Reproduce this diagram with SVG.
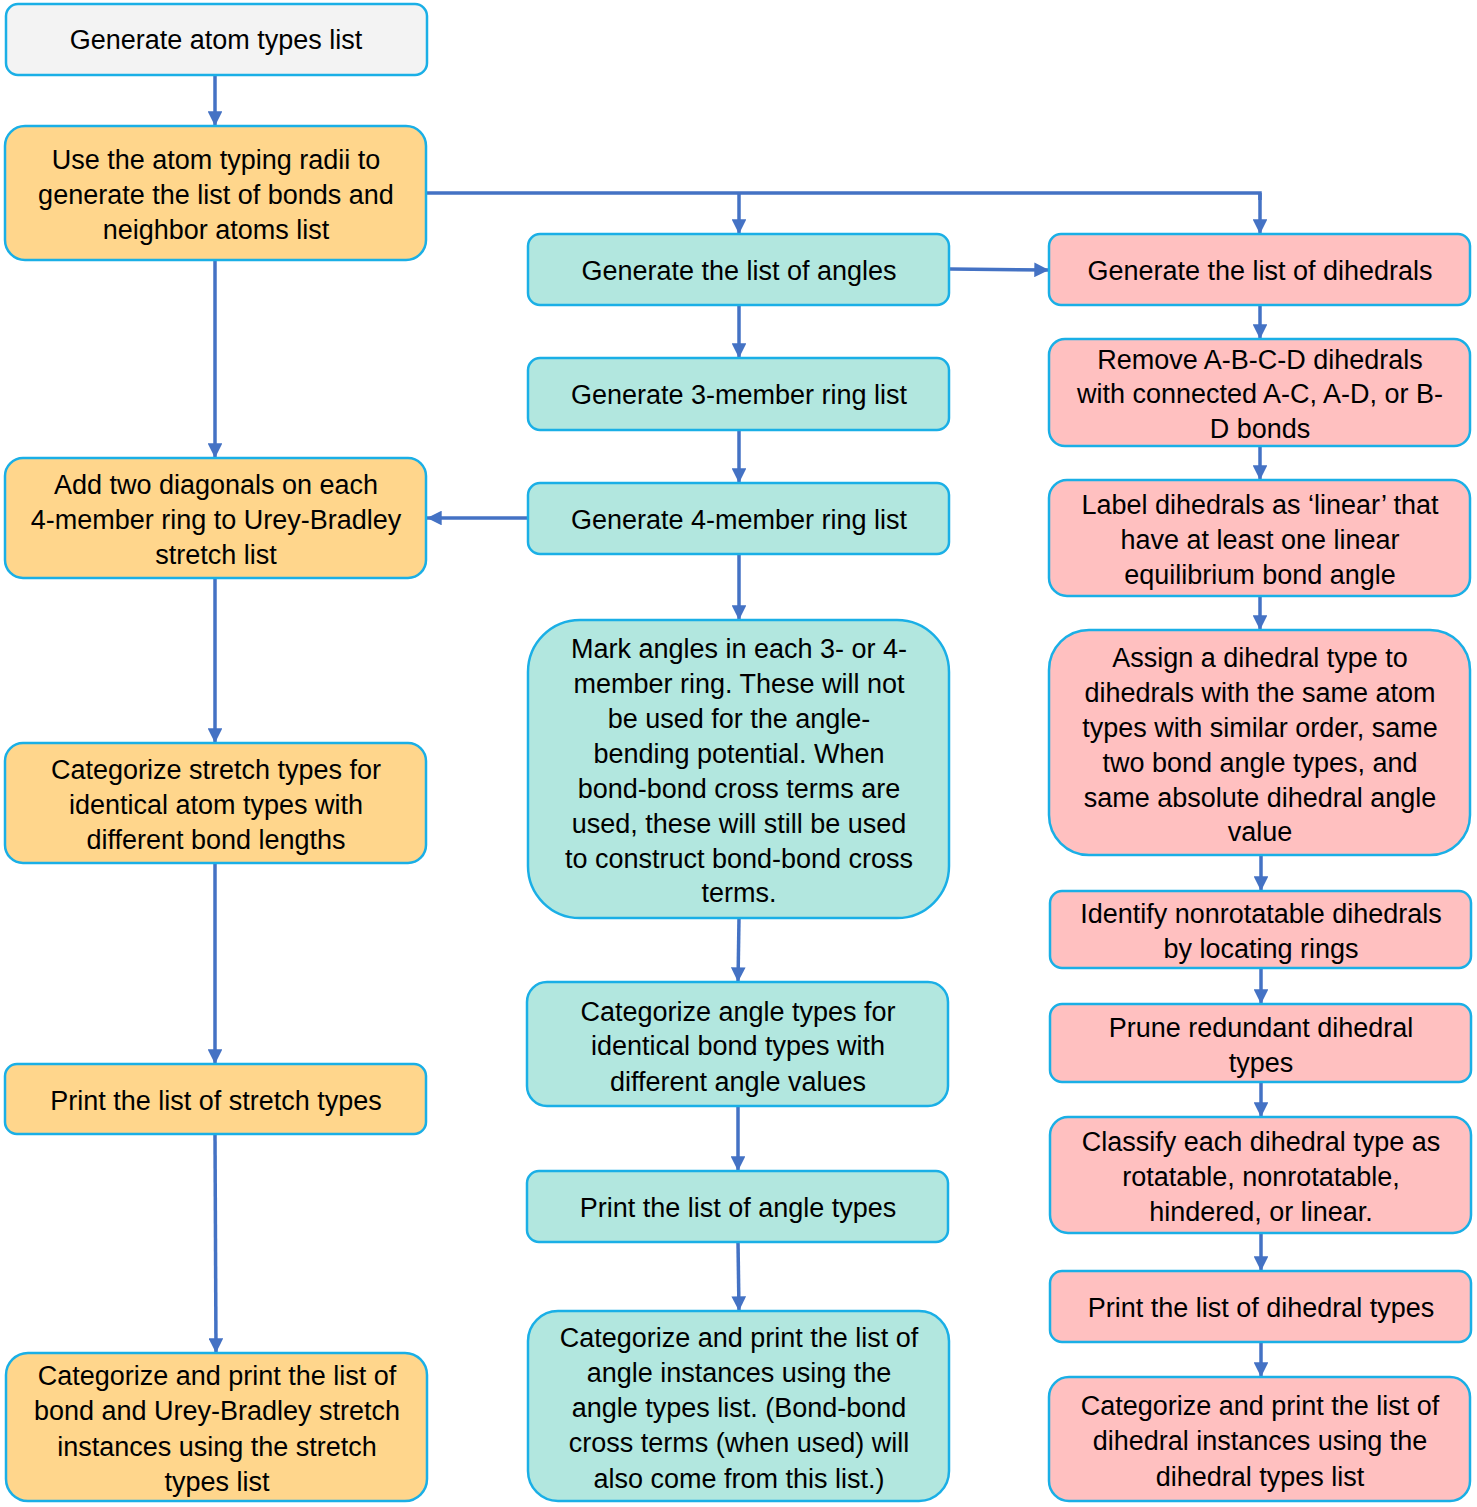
<svg xmlns="http://www.w3.org/2000/svg" width="1477" height="1507" viewBox="0 0 1477 1507">
<defs>
<marker id="ah" viewBox="0 0 10 10" refX="10" refY="5" markerWidth="4.4" markerHeight="4.2" orient="auto" markerUnits="strokeWidth">
<path d="M0,0 L10,5 L0,10 z" fill="#4472C4"/>
</marker>
</defs>
<style>
.b{stroke:#1AAFE6;stroke-width:2.5}
.g{fill:#F3F3F3}.o{fill:#FFD68C}.t{fill:#B2E7DF}.p{fill:#FFC0C0}
text{font-family:"Liberation Sans",Arial,sans-serif;font-size:27px;fill:#000;text-anchor:middle}
.c{fill:none;stroke:#4472C4;stroke-width:3.5;stroke-linejoin:miter}
.ca{fill:none;stroke:#4472C4;stroke-width:3.5;marker-end:url(#ah)}
</style>
<rect width="1477" height="1507" fill="#fff"/>
<g id="connectors">
<path class="ca" d="M215,75 V126"/>
<path class="ca" d="M215,260 V458"/>
<path class="c" d="M427,193 H1260 V200"/>
<path class="ca" d="M1260,193 V234"/>
<path class="ca" d="M739,193 V234"/>
<path class="ca" d="M950,269 L1049,270"/>
<path class="ca" d="M739,305 V358"/>
<path class="ca" d="M739,430 V483"/>
<path class="ca" d="M528,518 H427"/>
<path class="ca" d="M739,554 V620"/>
<path class="ca" d="M215,578 V743"/>
<path class="ca" d="M215,863 V1064"/>
<path class="ca" d="M215,1134 L216,1353"/>
<path class="ca" d="M739,918 L738,982"/>
<path class="ca" d="M738,1106 V1171"/>
<path class="ca" d="M738,1242 L739,1311"/>
<path class="ca" d="M1260,305 V339"/>
<path class="ca" d="M1260,446 V480"/>
<path class="ca" d="M1260,596 V630"/>
<path class="ca" d="M1261,855 V891"/>
<path class="ca" d="M1261,968 V1004"/>
<path class="ca" d="M1261,1082 V1117"/>
<path class="ca" d="M1261,1233 V1271"/>
<path class="ca" d="M1261,1342 V1377"/>
</g>
<g id="n1"><rect class="b g" x="6" y="4" width="421" height="71" rx="12"/><text x="216" y="49">Generate atom types list</text></g>
<g id="n2"><rect class="b o" x="5" y="126" width="421" height="134" rx="20"/><text x="216" y="169">Use the atom typing radii to</text><text x="216" y="204">generate the list of bonds and</text><text x="216" y="239">neighbor atoms list</text></g>
<g id="n3"><rect class="b o" x="5" y="458" width="421" height="120" rx="18"/><text x="216" y="494">Add two diagonals on each</text><text x="216" y="529">4-member ring to Urey-Bradley</text><text x="216" y="564">stretch list</text></g>
<g id="n4"><rect class="b o" x="5" y="743" width="421" height="120" rx="18"/><text x="216" y="779">Categorize stretch types for</text><text x="216" y="814">identical atom types with</text><text x="216" y="849">different bond lengths</text></g>
<g id="n5"><rect class="b o" x="5" y="1064" width="421" height="70" rx="12"/><text x="216" y="1110">Print the list of stretch types</text></g>
<g id="n6"><rect class="b o" x="6" y="1353" width="421" height="148" rx="22"/><text x="217" y="1385">Categorize and print the list of</text><text x="217" y="1420">bond and Urey-Bradley stretch</text><text x="217" y="1456">instances using the stretch</text><text x="217" y="1491">types list</text></g>
<g id="m1"><rect class="b t" x="528" y="234" width="421" height="71" rx="12"/><text x="739" y="280">Generate the list of angles</text></g>
<g id="m2"><rect class="b t" x="528" y="358" width="421" height="72" rx="12"/><text x="739" y="404">Generate 3-member ring list</text></g>
<g id="m3"><rect class="b t" x="528" y="483" width="421" height="71" rx="12"/><text x="739" y="529">Generate 4-member ring list</text></g>
<g id="m4"><rect class="b t" x="528" y="620" width="421" height="298" rx="52"/><text x="739" y="658">Mark angles in each 3- or 4-</text><text x="739" y="693">member ring. These will not</text><text x="739" y="728">be used for the angle-</text><text x="739" y="763">bending potential. When</text><text x="739" y="798">bond-bond cross terms are</text><text x="739" y="833">used, these will still be used</text><text x="739" y="868">to construct bond-bond cross</text><text x="739" y="902">terms.</text></g>
<g id="m5"><rect class="b t" x="527" y="982" width="421" height="124" rx="20"/><text x="738" y="1021">Categorize angle types for</text><text x="738" y="1055">identical bond types with</text><text x="738" y="1091">different angle values</text></g>
<g id="m6"><rect class="b t" x="527" y="1171" width="421" height="71" rx="12"/><text x="738" y="1217">Print the list of angle types</text></g>
<g id="m7"><rect class="b t" x="528" y="1311" width="421" height="190" rx="30"/><text x="739" y="1347">Categorize and print the list of</text><text x="739" y="1382">angle instances using the</text><text x="739" y="1417">angle types list. (Bond-bond</text><text x="739" y="1452">cross terms (when used) will</text><text x="739" y="1488">also come from this list.)</text></g>
<g id="r1"><rect class="b p" x="1049" y="234" width="421" height="71" rx="12"/><text x="1260" y="280">Generate the list of dihedrals</text></g>
<g id="r2"><rect class="b p" x="1049" y="339" width="421" height="107" rx="16"/><text x="1260" y="369">Remove A-B-C-D dihedrals</text><text x="1260" y="403">with connected A-C, A-D, or B-</text><text x="1260" y="438">D bonds</text></g>
<g id="r3"><rect class="b p" x="1049" y="480" width="421" height="116" rx="18"/><text x="1260" y="514">Label dihedrals as ‘linear’ that</text><text x="1260" y="549">have at least one linear</text><text x="1260" y="584">equilibrium bond angle</text></g>
<g id="r4"><rect class="b p" x="1049" y="630" width="421" height="225" rx="40"/><text x="1260" y="667">Assign a dihedral type to</text><text x="1260" y="702">dihedrals with the same atom</text><text x="1260" y="737">types with similar order, same</text><text x="1260" y="772">two bond angle types, and</text><text x="1260" y="807">same absolute dihedral angle</text><text x="1260" y="841">value</text></g>
<g id="r5"><rect class="b p" x="1050" y="891" width="421" height="77" rx="12"/><text x="1261" y="923">Identify nonrotatable dihedrals</text><text x="1261" y="958">by locating rings</text></g>
<g id="r6"><rect class="b p" x="1050" y="1004" width="421" height="78" rx="12"/><text x="1261" y="1037">Prune redundant dihedral</text><text x="1261" y="1072">types</text></g>
<g id="r7"><rect class="b p" x="1050" y="1117" width="421" height="116" rx="18"/><text x="1261" y="1151">Classify each dihedral type as</text><text x="1261" y="1186">rotatable, nonrotatable,</text><text x="1261" y="1221">hindered, or linear.</text></g>
<g id="r8"><rect class="b p" x="1050" y="1271" width="421" height="71" rx="12"/><text x="1261" y="1317">Print the list of dihedral types</text></g>
<g id="r9"><rect class="b p" x="1049" y="1377" width="421" height="124" rx="20"/><text x="1260" y="1415">Categorize and print the list of</text><text x="1260" y="1450">dihedral instances using the</text><text x="1260" y="1486">dihedral types list</text></g>
</svg>
